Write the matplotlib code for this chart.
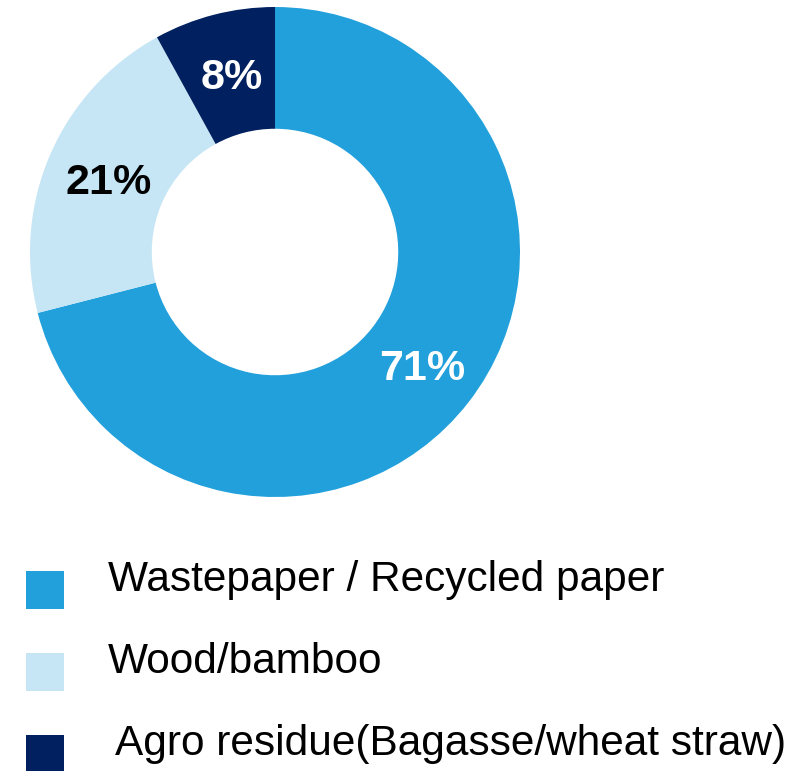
import numpy as np
import matplotlib
matplotlib.use('Agg')
from matplotlib import pyplot as plt, rcParams
from matplotlib.patches import Rectangle

rcParams.update({'font.family': ['Liberation Sans', 'DejaVu Sans']})

# Доля сировини
labels = ['Wastepaper / Recycled paper', 'Wood/bamboo',
          'Agro residue(Bagasse/wheat straw)']
shares = [71, 21, 8]
colors = ['#22a0dc', '#c6e6f5', '#00205f']
pct_colors = ['white', 'black', 'white']

W, H = 808, 771
fig = plt.figure(figsize=(W / 100, H / 100), dpi=100)
fig.patch.set_facecolor('white')

# кільце: центр (275, 252) px, радіус 245 px
cx, cy, R = 275, 252, 245
ax = fig.add_axes([(cx - R) / W, (H - cy - R) / H, 2 * R / W, 2 * R / H])
wedges, texts, autotexts = ax.pie(
    shares, colors=colors, startangle=90, counterclock=False, radius=1,
    autopct='%d%%', pctdistance=0.75,
    wedgeprops=dict(width=0.497, linewidth=0),
    textprops=dict(fontsize=31, fontweight='bold'))
for t, c in zip(autotexts, pct_colors):
    t.set_color(c)
    x, y = t.get_position()
    t.set_position((x + 0.008, y - 0.016))
ax.set_xlim(-1, 1)
ax.set_ylim(-1, 1)
ax.set_aspect('auto')
ax.axis('off')

# легенда знизу
lax = fig.add_axes([0, 0, 1, 1])
lax.set_xlim(0, W)
lax.set_ylim(H, 0)
lax.axis('off')
rows_y = [590, 672, 754]
text_x = [108, 108, 115]
for i, (lab, col) in enumerate(zip(labels, colors)):
    lax.add_patch(Rectangle((26, rows_y[i] - 19), 38, 38, color=col, lw=0))
    lax.text(text_x[i], rows_y[i] - 10, lab, fontsize=30.5, va='center',
             ha='left', color='black')

fig.savefig('out.png', dpi=100)
